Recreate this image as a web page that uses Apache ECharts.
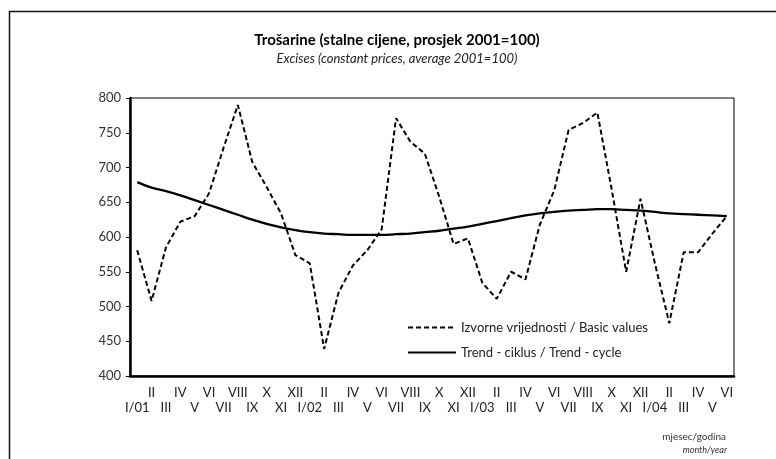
<!DOCTYPE html>
<html>
<head>
<meta charset="utf-8">
<script src="https://cdn.jsdelivr.net/npm/echarts@6/dist/echarts.min.js"></script>
<style>
  html, body { margin: 0; padding: 0; background: #fff; }
  #chart { width: 776px; height: 459px; }
</style>
</head>
<body>
<div id="chart"></div>
<script>
// mjeseci I/01 - VI/04
const months = [
  'I/01', 'II', 'III', 'IV', 'V', 'VI', 'VII', 'VIII', 'IX', 'X', 'XI', 'XII',
  'I/02', 'II', 'III', 'IV', 'V', 'VI', 'VII', 'VIII', 'IX', 'X', 'XI', 'XII',
  'I/03', 'II', 'III', 'IV', 'V', 'VI', 'VII', 'VIII', 'IX', 'X', 'XI', 'XII',
  'I/04', 'II', 'III', 'IV', 'V', 'VI',
]
const basicValues = [
  581, 508, 585, 622, 630, 663, 728, 790, 708, 672, 634, 574,
  562, 439, 520, 559, 581, 611, 771, 737, 720, 658, 590, 598,
  534, 511, 550, 539, 618, 667, 754, 764, 779, 668, 550, 655,
  562, 476, 578, 578, 605, 630,
]
const trendCycle = [
  679, 671, 666, 660, 653, 646, 639, 632, 625, 619, 614, 610,
  607, 605, 604, 603, 603, 603, 604, 605, 607, 609, 612, 615,
  619, 623, 627, 631, 634, 636, 638, 639, 640, 640, 639, 638,
  636, 634, 633, 632, 631, 630,
]
const yTicks = [400, 450, 500, 550, 600, 650, 700, 750, 800]

const fontName = 'Lato'
const chart = echarts.init(document.getElementById('chart'))
const opt = {
  animation: false,
  textStyle: { fontFamily: fontName },
  title: {
    text: 'Trošarine (stalne cijene, prosjek 2001=100)',
    subtext: 'Excises (constant prices, average 2001=100)',
    left: 392,
    textAlign: 'center',
    top: 28,
    itemGap: 4,
    textStyle: { fontSize: 15, fontWeight: 'bold', color: '#000', fontFamily: fontName },
    subtextStyle: { fontSize: 13, fontStyle: 'italic', color: '#222', fontFamily: fontName },
  },
  legend: {
    orient: 'vertical',
    left: 402,
    top: 316,
    itemWidth: 48,
    itemHeight: 10,
    itemGap: 12,
    itemStyle: { opacity: 0 },
    textStyle: { fontSize: 13, color: '#222', fontFamily: fontName },
    data: ['Izvorne vrijednosti / Basic values', 'Trend - ciklus / Trend - cycle'],
  },
  grid: {
    left: 130,
    right: 42,
    top: 98,
    bottom: 83,
    show: true,
    borderColor: '#000',
    borderWidth: 1,
  },
  xAxis: {
    type: 'category',
    data: months,
    boundaryGap: true,
    axisLine: { lineStyle: { color: '#000', width: 2.5 } },
    axisTick: { show: false },
    axisLabel: {
      interval: 0,
      margin: 9,
      fontSize: 13,
      lineHeight: 15,
      color: '#222',
      fontFamily: fontName,
      formatter: (val, i) => (i % 2 === 1 ? val : '\n' + val),
    },
  },
  yAxis: {
    type: 'value',
    min: yTicks[0],
    max: yTicks[yTicks.length - 1],
    interval: 50,
    axisLine: { show: true, lineStyle: { color: '#000', width: 2.5 } },
    axisTick: { show: true, length: 4, lineStyle: { color: '#000' } },
    splitLine: { show: false },
    axisLabel: { margin: 9, fontSize: 13, color: '#333', fontFamily: fontName },
  },
  series: [
    {
      name: 'Izvorne vrijednosti / Basic values',
      type: 'line',
      data: basicValues,
      symbol: 'none',
      color: '#000',
      lineStyle: { color: '#000', width: 2, type: [5, 3] },
    },
    {
      name: 'Trend - ciklus / Trend - cycle',
      type: 'line',
      data: trendCycle,
      symbol: 'none',
      smooth: 0.4,
      color: '#000',
      lineStyle: { color: '#000', width: 2.3 },
    },
  ],
  graphic: [
    {
      type: 'polyline',
      shape: { points: [[9.5, 459], [9.5, 11.5], [776, 11.5]] },
      style: { stroke: '#111', lineWidth: 1.5, fill: null },
    },
    {
      type: 'text',
      right: 50,
      top: 432,
      style: { text: 'mjesec/godina', fontSize: 10, fill: '#333', fontFamily: fontName, textAlign: 'right' },
    },
    {
      type: 'text',
      right: 49,
      top: 446,
      style: { text: 'month/year', fontSize: 9, fontStyle: 'italic', fill: '#333', fontFamily: fontName, textAlign: 'right' },
    },
  ],
}
chart.setOption(opt)
</script>
</body>
</html>
